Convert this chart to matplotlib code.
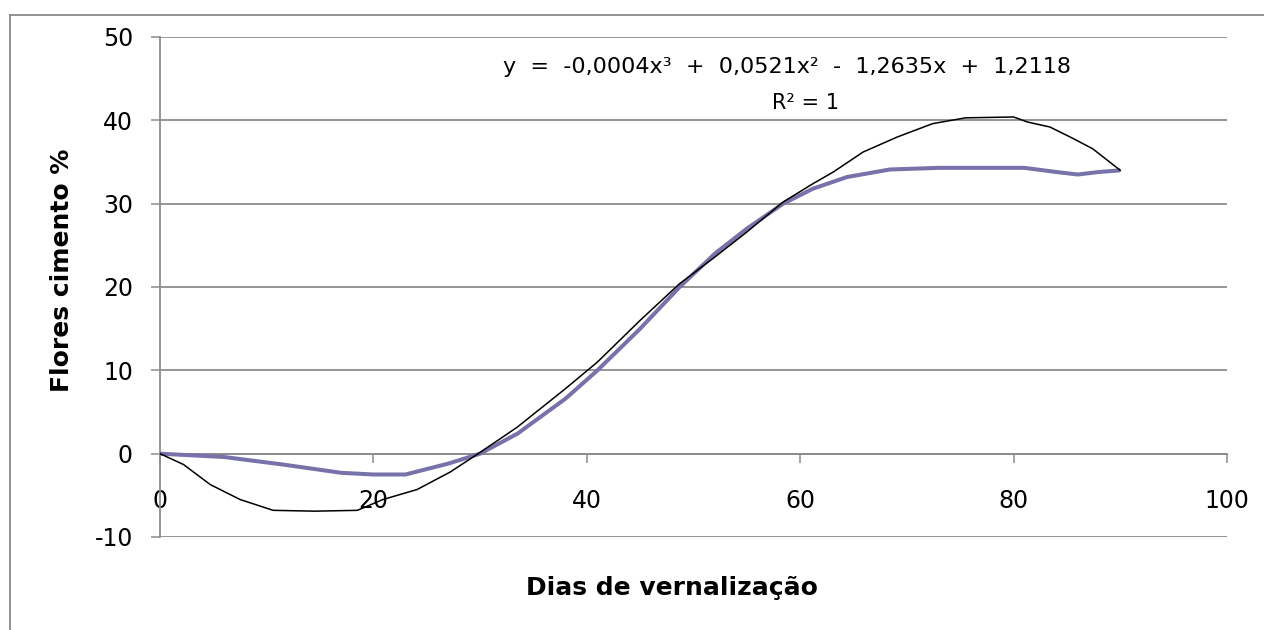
import numpy as np
import matplotlib
matplotlib.use('Agg')
import matplotlib.pyplot as plt
from matplotlib.lines import Line2D

plt.rcParams['axes.unicode_minus'] = False

# --- data ---
dias_obs = [0, 6, 11.5, 17, 20, 23, 27, 30, 33.5, 38, 41, 45, 48.7, 52, 55,
            58.4, 61.2, 64.4, 68.4, 73, 81, 84, 86, 88, 90]
flor_obs = [0, -0.4, -1.3, -2.3, -2.5, -2.5, -1.2, 0, 2.4, 6.6, 10, 15, 20, 24, 27,
            30, 31.8, 33.2, 34.1, 34.3, 34.3, 33.8, 33.5, 33.8, 34]

dias_trend = [0, 2.2, 4.7, 7.5, 10.6, 14.5, 18.5, 20.9, 24.1, 27.2, 29.7, 31.9, 33.5,
              38, 41, 45, 48.7, 51.8, 55, 58.4, 61.2, 63.1, 65.9, 69.1, 72.4, 75.5,
              80, 81.3, 83.4, 85.3, 87.4, 90]
flor_trend = [0, -1.3, -3.7, -5.5, -6.8, -6.9, -6.8, -5.5, -4.3, -2.2, -0.1, 1.8, 3.2,
              7.8, 11, 16, 20.4, 23.4, 26.6, 30.2, 32.4, 33.8, 36.2, 38, 39.6, 40.3,
              40.4, 39.8, 39.2, 38, 36.6, 34]

x_ticks = [0, 20, 40, 60, 80, 100]
y_ticks = [-10, 0, 10, 20, 30, 40, 50]
equacao = "y  =  -0,0004x³  +  0,0521x²  -  1,2635x  +  1,2118"
r2_txt = "R² = 1"
xlabel = "Dias de vernalização"
ylabel = "Flores cimento %"

W, H = 1264, 630
fig = plt.figure(figsize=(W / 100, H / 100), dpi=100)
fig.patch.set_facecolor('white')

# outer chart border: only its top and left edges fall inside the picture
top = 1 - 15 / H
left = 10 / W
fig.add_artist(Line2D([left, 1.0], [top, top], transform=fig.transFigure,
                      color='#8a8a8a', linewidth=1.3))
fig.add_artist(Line2D([left, left], [0, top], transform=fig.transFigure,
                      color='#8a8a8a', linewidth=1.3))

ax = fig.add_axes([160 / W, 1 - 537 / H, (1227 - 160) / W, (537 - 37) / H])
gray = '#8c8c8c'

ax.plot(dias_obs, flor_obs, color='#7872aa', linewidth=2.9, solid_capstyle='butt', zorder=3)
ax.plot(dias_trend, flor_trend, color='black', linewidth=1.1, zorder=4)

ax.set_xlim(0, 100)
ax.set_ylim(-10, 50)
ax.set_xticks(x_ticks)
ax.set_yticks(y_ticks)

for s in ['top', 'right']:
    ax.spines[s].set_visible(False)
ax.spines['bottom'].set_position(('data', 0))
ax.spines['bottom'].set_color(gray)
ax.spines['left'].set_color(gray)
ax.spines['bottom'].set_linewidth(1.3)
ax.spines['left'].set_linewidth(1.3)

ax.yaxis.grid(True, color=gray, linewidth=1.3)
ax.set_axisbelow(True)

ax.tick_params(axis='y', direction='out', length=6.5, width=1.1, color=gray,
               pad=13, labelsize=17)
ax.tick_params(axis='x', direction='out', length=6.5, width=1.1, color=gray,
               pad=19, labelsize=17)

fig.text(787 / W, 1 - 67 / H, equacao, ha='center', va='center', fontsize=16)
fig.text(806 / W, 1 - 103 / H, r2_txt, ha='center', va='center', fontsize=15)
fig.text(672 / W, 1 - 588 / H, xlabel, ha='center', va='center', fontsize=18,
         fontweight='bold')
fig.text(62 / W, 1 - 270 / H, ylabel, ha='center', va='center', fontsize=18,
         fontweight='bold', rotation=90)

fig.savefig('out.png', dpi=100, facecolor='white')
